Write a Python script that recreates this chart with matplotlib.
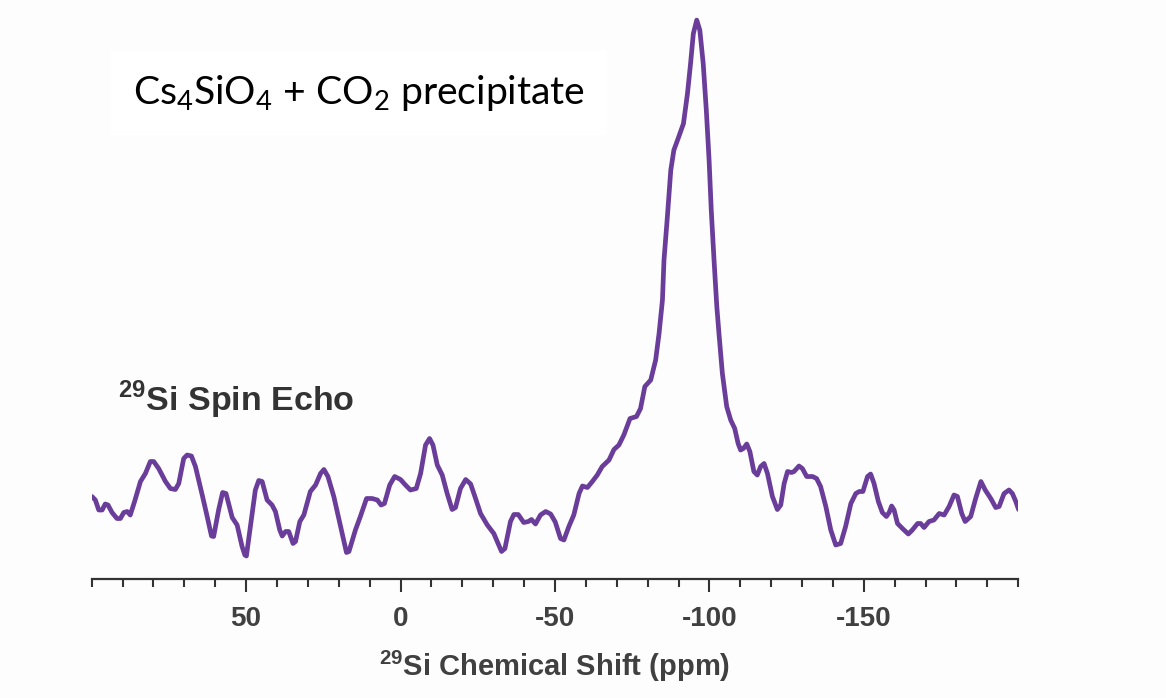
import matplotlib.pyplot as plt
from matplotlib.ticker import MultipleLocator

plt.rcParams['axes.unicode_minus'] = False
plt.rcParams['mathtext.fontset'] = 'custom'
plt.rcParams['mathtext.rm'] = 'Lato'
plt.rcParams['mathtext.bf'] = 'Liberation Sans:bold'

# 29Si spin echo spectrum, chemical shift (ppm) vs intensity (a.u.)
shift = [99.9, 98.8, 97.7, 96.6, 95.6, 94.7, 93.4, 91.8, 90.7, 89.6, 88.5, 87.5,
         86.1, 84.2, 82.6, 81.0, 79.9, 78.3, 76.1, 74.5, 72.9, 71.8, 70.2, 69.1,
         67.7, 66.4, 64.2, 62.6, 61.2, 60.5, 58.9, 57.6, 56.5, 54.5, 52.9, 51.3,
         50.4, 49.9, 48.6, 47.0, 45.9, 44.8, 43.2, 41.6, 40.5, 39.1, 38.3, 37.2,
         36.2, 34.8, 34.0, 32.6, 31.3, 29.2, 27.5, 25.9, 24.8, 23.5, 21.6, 19.4,
         17.5, 16.7, 14.6, 13.0, 11.0, 9.2, 7.5, 6.3, 5.2, 3.5, 1.9, 0.0,
         -1.6, -3.2, -5.1, -6.5, -8.1, -9.4, -10.5, -11.9, -13.5, -15.1, -16.7, -17.8,
         -19.4, -21.1, -22.7, -24.3, -25.9, -28.1, -30.2, -31.3, -32.7, -33.8, -35.6, -36.7,
         -38.1, -39.9, -41.4, -42.4, -43.7, -45.3, -47.0, -48.6, -50.1, -51.8, -52.9, -54.5,
         -56.1, -57.8, -58.9, -60.5, -62.1, -63.7, -65.3, -67.5, -69.1, -70.7, -72.3, -74.3,
         -76.4, -77.7, -79.1, -81.0, -82.6, -83.7, -84.8, -85.3, -86.4, -87.5, -88.5, -90.1,
         -91.6, -92.9, -93.9, -94.8, -95.9, -96.9, -98.0, -99.0, -99.9, -100.6, -101.5, -102.4,
         -103.1, -104.2, -105.6, -106.9, -108.2, -109.3, -110.1, -111.0, -112.1, -113.1, -114.4, -115.5,
         -116.6, -117.7, -118.8, -120.4, -122.0, -123.1, -124.2, -125.3, -126.6, -127.4, -129.0, -130.1,
         -131.5, -133.4, -134.7, -136.0, -137.7, -139.3, -140.9, -142.5, -144.1, -145.8, -147.4, -148.5,
         -149.7, -151.2, -152.2, -153.3, -154.7, -156.0, -157.3, -158.2, -159.0, -159.8, -160.9, -162.5,
         -164.4, -165.7, -167.4, -168.4, -169.5, -171.1, -172.7, -174.4, -176.0, -177.6, -179.2, -180.3,
         -181.7, -182.8, -184.6, -186.2, -187.9, -189.3, -191.1, -192.7, -193.8, -195.4, -197.0, -198.1,
         -199.2, -200.1]
intensity = [12.7, 12.0, 10.0, 10.0, 11.2, 11.0, 9.5, 8.3, 8.3, 9.5, 9.7, 9.0,
             11.7, 15.7, 17.3, 19.7, 19.7, 18.3, 15.7, 14.3, 14.1, 15.3, 20.3, 21.0,
             20.8, 18.7, 13.0, 8.7, 4.8, 4.7, 10.0, 13.5, 13.3, 8.5, 7.0, 2.7,
             1.0, 0.8, 6.7, 14.0, 15.9, 15.7, 12.0, 11.0, 9.7, 6.0, 4.8, 5.7,
             5.7, 3.3, 3.7, 7.7, 9.0, 13.7, 15.0, 17.3, 18.1, 16.7, 12.7, 6.7,
             1.5, 1.7, 6.0, 8.7, 12.3, 12.3, 12.0, 11.0, 11.3, 15.0, 16.7, 16.1,
             15.0, 14.0, 14.3, 17.3, 23.0, 24.3, 23.0, 19.0, 17.0, 13.3, 10.1, 10.5,
             14.3, 16.1, 15.2, 12.3, 9.3, 7.0, 5.3, 3.7, 1.7, 2.3, 7.7, 9.1,
             9.1, 7.5, 7.7, 8.1, 7.2, 9.0, 9.7, 9.2, 7.6, 4.3, 4.0, 6.7,
             9.0, 13.3, 14.8, 14.5, 15.7, 17.0, 18.7, 20.0, 22.1, 23.0, 25.0, 28.3,
             28.7, 30.3, 34.7, 36.0, 40.0, 45.3, 52.0, 60.0, 68.7, 78.0, 82.0, 84.7,
             87.3, 93.3, 99.3, 105.3, 108.0, 106.0, 99.3, 90.0, 80.0, 70.0, 60.0, 50.7,
             45.3, 37.3, 30.7, 28.0, 26.3, 23.3, 22.0, 22.3, 23.2, 21.7, 17.7, 17.0,
             18.7, 19.3, 17.3, 12.7, 10.1, 11.0, 15.3, 17.7, 17.5, 17.7, 18.8, 18.3,
             16.7, 16.7, 16.3, 14.7, 10.7, 6.0, 3.0, 3.3, 6.7, 11.3, 13.3, 13.7,
             13.7, 16.7, 17.2, 15.3, 11.7, 9.5, 8.7, 9.5, 10.8, 10.0, 7.3, 6.3,
             5.2, 6.0, 7.3, 7.3, 6.5, 7.7, 8.0, 9.3, 9.0, 10.7, 13.0, 12.7,
             9.3, 7.7, 8.7, 12.3, 15.7, 14.0, 12.3, 10.5, 10.7, 13.3, 14.0, 13.3,
             11.7, 10.1]

tick_values = [50, 0, -50, -100, -150]

fig = plt.figure(figsize=(11.66, 6.98), dpi=100, facecolor='#fdfdfd')
ax = fig.add_axes([0.0786, 0.1705, 0.7947, 0.815])
ax.set_facecolor('none')

ax.plot(shift, intensity, color='#6a3d9a', lw=3.4,
        solid_joinstyle='round', solid_capstyle='round')

ax.set_xlim(100, -200)
ax.set_ylim(-3.8, 110)

for side in ['top', 'left', 'right']:
    ax.spines[side].set_visible(False)
ax.spines['bottom'].set_color('#333333')
ax.spines['bottom'].set_linewidth(1.6)

ax.set_yticks([])
ax.set_xticks(tick_values)
ax.xaxis.set_minor_locator(MultipleLocator(10))
ax.tick_params(axis='x', which='major', length=9.5, width=1.5, color='#333333',
               pad=10, labelsize=20, labelcolor='#404040')
ax.tick_params(axis='x', which='minor', length=5.8, width=1.5, color='#333333')
for lab in ax.get_xticklabels():
    lab.set_fontfamily('Liberation Sans')
    lab.set_fontweight('bold')

ax.set_xlabel(r'$^{\mathbf{29}}$Si Chemical Shift (ppm)', fontsize=21, fontweight='bold',
              family='Liberation Sans', color='#404040', labelpad=12)

fig.text(0.101, 0.427, r'$^{\mathbf{29}}$Si Spin Echo', fontsize=24.5, fontweight='bold',
         family='Liberation Sans', color='#333333', ha='left', va='center')

fig.text(0.114, 0.867, r'Cs$_{4}$SiO$_{4}$ + CO$_{2}$ precipitate', fontsize=28.2,
         family='Lato', color='black', ha='left', va='center',
         bbox=dict(facecolor='white', edgecolor='none', pad=16))

fig.savefig('out.png', dpi=100, facecolor=fig.get_facecolor())
